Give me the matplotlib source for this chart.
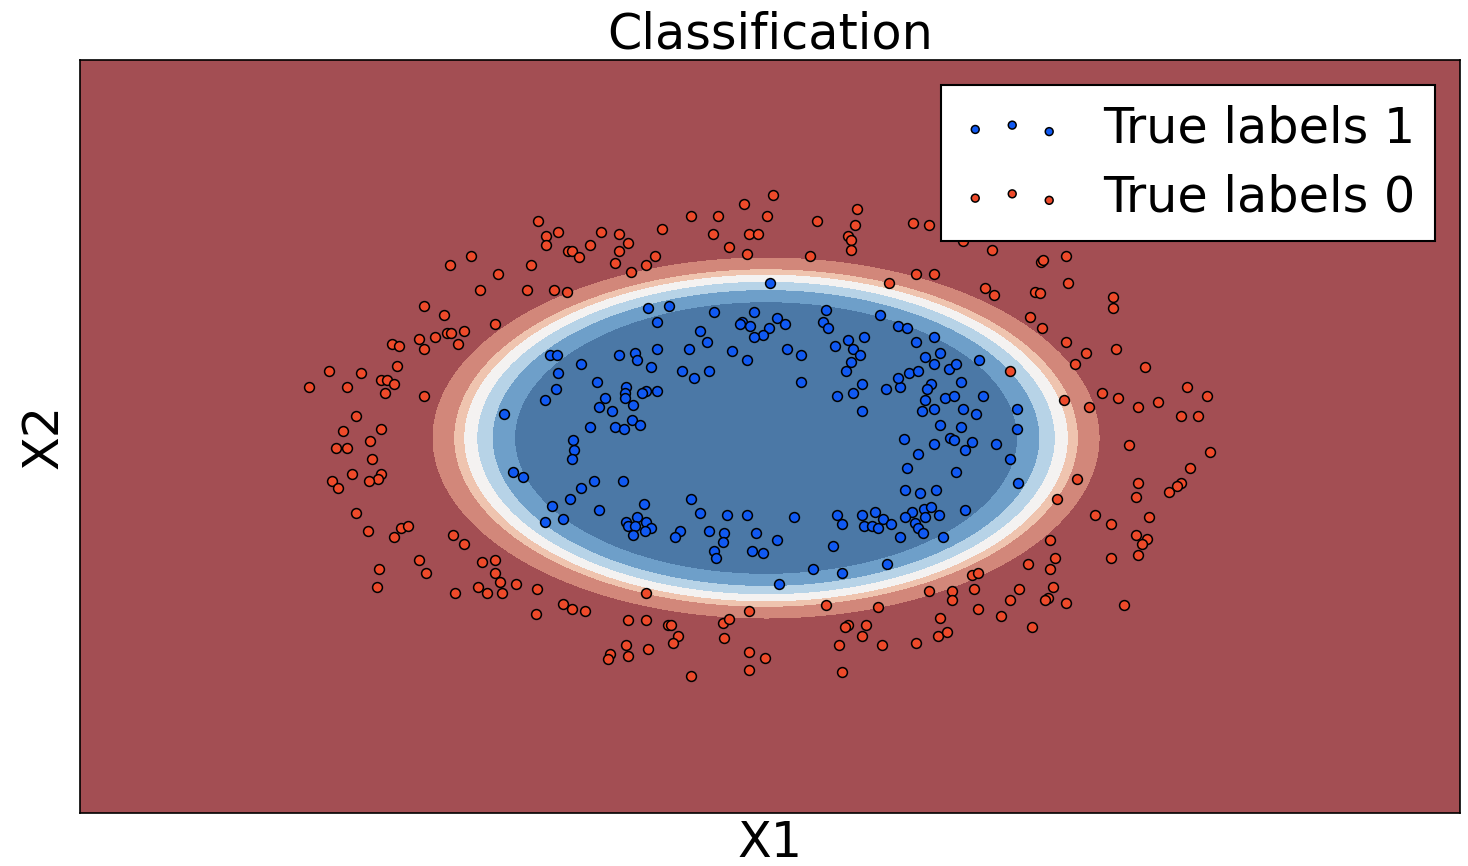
import numpy as np
import matplotlib
matplotlib.use("Agg")
import matplotlib.pyplot as plt
from matplotlib.colors import ListedColormap, BoundaryNorm

# outer ring samples (true label 0)
x0 = [-2.99, -3.20, -2.72, -2.39, -2.90, -2.43, -3.46, -3.26, -2.75, -3.06,
      -3.23, -3.19, -3.35, -3.51, -3.12, -3.78, -3.71, -3.46, -3.73, -4.41,
      -4.09, -3.89, -3.83, -3.76, -4.61, -4.23, -3.85, -3.46, -4.14, -4.27,
      -3.89, -4.00, -4.34, -4.23, -3.98, -4.18, -3.89, -3.92, -4.01, -4.38,
      -4.32, -4.14, -4.02, -3.69, -3.62, -3.76, -3.17, -3.06, -3.51, -3.44,
      -3.91, -3.93, -2.88, -2.75, -2.75, -2.70, -2.54, -2.92, -2.83, -2.68,
      -3.15, -2.32, -2.24, -2.12, -2.24, -2.02, -1.98, -1.91, -1.80, -1.69,
      -1.51, -1.42, -1.51, -1.55, -1.39, -1.24, -1.15, -1.08, -0.79, -0.52,
      -0.26, -0.03, 0.03, -0.57, -0.21, -0.12, -0.41, -0.23, -2.16, -2.03,
      -2.33, -2.34, -2.07, -1.98, -1.85, -1.24, -1.42, -1.24, -1.02, -0.99,
      -0.92, -0.97, -1.44, -1.60, -1.62, -1.42, -1.22, -0.47, -0.41, -0.46,
      -0.21, -0.21, -0.05, -0.21, -0.79, 0.87, 0.47, 0.85, 0.78, 0.81,
      0.81, 0.40, 1.43, 1.59, 1.93, 2.22, 1.46, 1.64, 1.19, 2.15,
      2.24, 2.40, 2.71, 2.73, 2.96, 2.65, 2.70, 2.98, 3.43, 3.43,
      2.60, 2.72, 2.96, 3.16, 3.05, 3.46, 3.75, 3.32, 3.48, 2.94,
      3.19, 3.68, 3.88, 4.17, 4.37, 4.11, 4.28, 0.56, 1.08, 0.78,
      0.75, 0.96, 0.92, 0.69, 1.12, 1.46, 1.68, 1.77, 1.70, 1.59,
      1.82, 1.82, 2.02, 2.08, 2.04, 2.08, 2.31, 2.40, 0.72, 3.59,
      4.40, 4.20, 4.11, 4.07, 3.99, 3.68, 3.66, 3.79, 3.07, 2.87,
      3.25, 3.41, 3.66, 3.77, 3.72, 3.68, 3.41, 2.80, 2.85, 2.58,
      2.80, 2.83, 2.49, 2.78, 2.75, 2.96, 3.54, 2.62]
y0 = [1.81, 1.72, 1.63, 1.72, 1.47, 1.47, 1.31, 1.22, 1.13, 1.06,
      1.04, 1.04, 1.00, 0.98, 0.93, 0.93, 0.91, 0.88, 0.71, 0.66,
      0.64, 0.57, 0.57, 0.53, 0.50, 0.50, 0.44, 0.41, 0.21, 0.06,
      0.08, -0.04, -0.11, -0.11, -0.22, -0.37, -0.37, -0.42, -0.44, -0.44,
      -0.51, -0.76, -0.94, -0.91, -0.89, -1.00, -0.98, -1.07, -1.23, -1.36,
      -1.32, -1.50, -1.25, -1.23, -1.36, -1.45, -1.47, -1.50, -1.56, -1.56,
      -1.56, 2.16, 2.01, 2.05, 1.92, 1.86, 1.86, 1.80, 1.92, 2.05,
      2.03, 1.94, 1.86, 1.74, 1.65, 1.72, 1.81, 2.08, 2.21, 2.21,
      2.33, 2.21, 2.42, 2.03, 2.03, 2.03, 1.90, 1.83, 1.47, 1.45,
      -1.52, -1.77, -1.67, -1.72, -1.74, -1.56, -1.83, -1.83, -1.88, -1.88,
      -1.99, -2.06, -2.08, -2.17, -2.22, -2.19, -2.12, -1.86, -1.82, -2.01,
      -1.74, -2.15, -2.21, -2.33, -2.39, 2.28, 2.16, 2.12, 2.01, 1.97,
      1.87, 1.81, 2.14, 2.12, 1.96, 1.87, 1.63, 1.63, 1.54, 1.49,
      1.42, 0.66, 1.75, 1.77, 1.81, 1.45, 1.44, 1.54, 1.40, 1.29,
      1.20, 1.09, 0.95, 0.84, 0.73, 0.88, 0.70, 0.44, 0.39, 0.37,
      0.30, 0.30, 0.35, 0.50, 0.41, 0.21, 0.21, -1.68, -1.70, -1.88,
      -1.90, -1.88, -1.99, -2.08, -2.08, -2.06, -1.99, -1.95, -1.81, -1.54,
      -1.54, -1.63, -1.38, -1.36, -1.52, -1.72, -1.79, -1.63, -2.35, -0.08,
      -0.15, -0.31, -0.46, -0.49, -0.55, -0.46, -0.60, -0.80, -0.42, -0.62,
      -0.78, -0.87, -0.98, -1.02, -1.07, -1.18, -1.21, -1.03, -1.21, -1.27,
      -1.32, -1.50, -1.52, -1.61, -1.63, -1.66, -1.68, -1.90]

# inner ring samples (true label 1)
x1 = [-2.66, -2.57, -2.47, 0.00, -1.22, -1.01, -1.13, -0.56, -0.16, -0.28,
      -0.30, -0.20, -0.01, -0.07, -0.16, -0.70, -0.63, -0.81, -0.38, -0.23,
      -2.20, -2.13, -1.89, -1.51, -1.35, -1.33, -1.13, -1.19, -0.88, -0.76,
      -0.61, -2.12, -1.73, -2.14, -2.25, -1.44, -1.45, -1.45, -1.37, -1.65,
      -1.71, -1.58, -1.24, -1.28, -1.13, -1.38, -1.30, -1.55, -1.46, -1.80,
      -1.97, -1.96, -1.98, -1.76, -1.47, -1.89, -2.00, -2.18, -2.25, -2.07,
      -1.71, -1.26, -1.44, -1.42, -1.33, -1.35, -1.24, -1.19, -1.25, -1.37,
      -0.90, -0.95, -0.79, -0.70, -0.43, -0.23, -0.61, -0.46, -0.47, -0.56,
      -0.54, -0.14, -0.18, -0.07, 0.07, 0.15, 0.56, 0.53, 0.58, 1.10,
      1.28, 1.37, 1.46, 1.64, 1.70, 1.55, 1.64, 1.79, 1.86, 2.09,
      0.17, 0.31, 0.65, 0.78, 0.94, 0.83, 0.90, 0.81, 0.76, 0.31,
      0.67, 0.83, 0.92, 0.92, 1.16, 1.30, 1.28, 1.39, 1.48, 1.61,
      1.57, 1.55, 1.75, 1.84, 1.91, 2.13, 1.64, 1.52, 1.93, 2.06,
      1.70, 1.91, 2.47, 2.47, 1.34, 1.64, 1.80, 1.84, 2.02, 1.95,
      2.26, 2.40, 1.48, 1.37, 1.86, 1.35, 1.50, 1.66, 1.95, 1.42,
      1.54, 1.61, 1.69, 1.55, 1.35, 1.45, 1.48, 1.53, 1.73, 1.30,
      0.24, 0.67, 0.72, 0.92, 1.05, 1.13, 1.21, 0.94, 1.02, 1.08,
      0.07, 0.63, 0.43, 0.72, 1.17, 0.09, 2.48]
y1 = [0.23, -0.35, -0.40, 1.54, 1.29, 1.31, 1.15, 1.25, 1.25, 1.15,
      1.13, 1.11, 1.09, 1.02, 1.00, 1.06, 0.95, 0.88, 0.86, 0.77,
      0.82, 0.82, 0.73, 0.82, 0.84, 0.77, 0.88, 0.70, 0.66, 0.59,
      0.66, 0.64, 0.55, 0.48, 0.37, 0.50, 0.44, 0.39, 0.32, 0.39,
      0.30, 0.26, 0.46, 0.44, 0.46, 0.17, 0.12, 0.10, 0.08, 0.10,
      -0.03, -0.13, -0.22, -0.44, -0.44, -0.51, -0.62, -0.69, -0.85, -0.82,
      -0.73, -0.67, -0.85, -0.89, -0.80, -0.89, -0.85, -0.91, -0.94, -0.98,
      -0.94, -1.00, -0.62, -0.76, -0.78, -0.78, -0.94, -0.96, -1.05, -1.14,
      -1.21, -0.96, -1.14, -1.16, 1.19, 1.13, 1.27, 1.15, 1.09, 1.22,
      1.11, 1.09, 0.95, 1.00, 0.84, 0.80, 0.73, 0.68, 0.73, 0.77,
      0.88, 0.82, 0.91, 0.97, 1.00, 0.88, 0.82, 0.75, 0.66, 0.55,
      0.41, 0.44, 0.53, 0.26, 0.48, 0.50, 0.59, 0.64, 0.66, 0.53,
      0.48, 0.37, 0.39, 0.41, 0.55, 0.41, 0.28, 0.26, 0.28, 0.23,
      0.12, 0.10, 0.28, 0.08, -0.02, -0.07, -0.01, -0.03, -0.05, -0.13,
      -0.07, -0.22, -0.17, -0.31, -0.35, -0.53, -0.56, -0.53, -0.73, -0.75,
      -0.72, -0.70, -0.78, -0.80, -0.80, -0.86, -0.91, -0.96, -1.00, -1.00,
      -0.80, -0.78, -0.87, -0.78, -0.75, -0.82, -0.87, -0.89, -0.89, -0.91,
      -1.03, -1.09, -1.32, -1.36, -1.27, -1.47, -0.46]

# fitted decision surface: elliptical score around the inner class
center = (-0.04, -0.01)
semi_axes = (3.34, 1.81)
levels = [0.0, 0.753, 0.82, 0.866, 0.905, 0.935, 1.0, 10.0]
band_colors = ["#4B78A6", "#6E9FC9", "#B7D3E7", "#F4F2F1",
               "#EFC4AF", "#D2877A", "#A34E53"]

xlim = (-6.9, 6.9)
ylim = (-3.76, 3.77)

fig = plt.figure(figsize=(14.68, 8.66), dpi=100)
ax = fig.add_axes([0.0545, 0.0612, 0.9401, 0.8695])

xx, yy = np.meshgrid(np.linspace(xlim[0], xlim[1], 700),
                     np.linspace(ylim[0], ylim[1], 400))
score = np.sqrt(((xx - center[0]) / semi_axes[0]) ** 2
                + ((yy - center[1]) / semi_axes[1]) ** 2)
cmap = ListedColormap(band_colors)
ax.contourf(xx, yy, score, levels=levels, cmap=cmap,
            norm=BoundaryNorm(levels, cmap.N))

ax.scatter(x1, y1, s=50, c="#1059F2", edgecolors="black", linewidths=1.1,
           label="True labels 1", zorder=3)
ax.scatter(x0, y0, s=50, c="#EE4A2A", edgecolors="black", linewidths=1.1,
           label="True labels 0", zorder=3)

ax.set_xlim(*xlim)
ax.set_ylim(*ylim)
ax.set_xticks([])
ax.set_yticks([])
for sp in ax.spines.values():
    sp.set_linewidth(1.2)

ax.set_title("Classification", fontsize=35.5, pad=8)
ax.set_xlabel("X1", fontsize=35.5, labelpad=4)
ax.set_ylabel("X2", fontsize=35.5, labelpad=9)

leg = ax.legend(loc="upper right", scatterpoints=3, markerscale=0.8,
                fontsize=35.5, fancybox=False, framealpha=1.0,
                edgecolor="black", borderaxespad=0.5, borderpad=0.4,
                handlelength=2.1, handletextpad=0.8, labelspacing=0.42)
leg.get_frame().set_linewidth(1.5)
leg.set_zorder(5)

fig.savefig("out.png", dpi=100)
